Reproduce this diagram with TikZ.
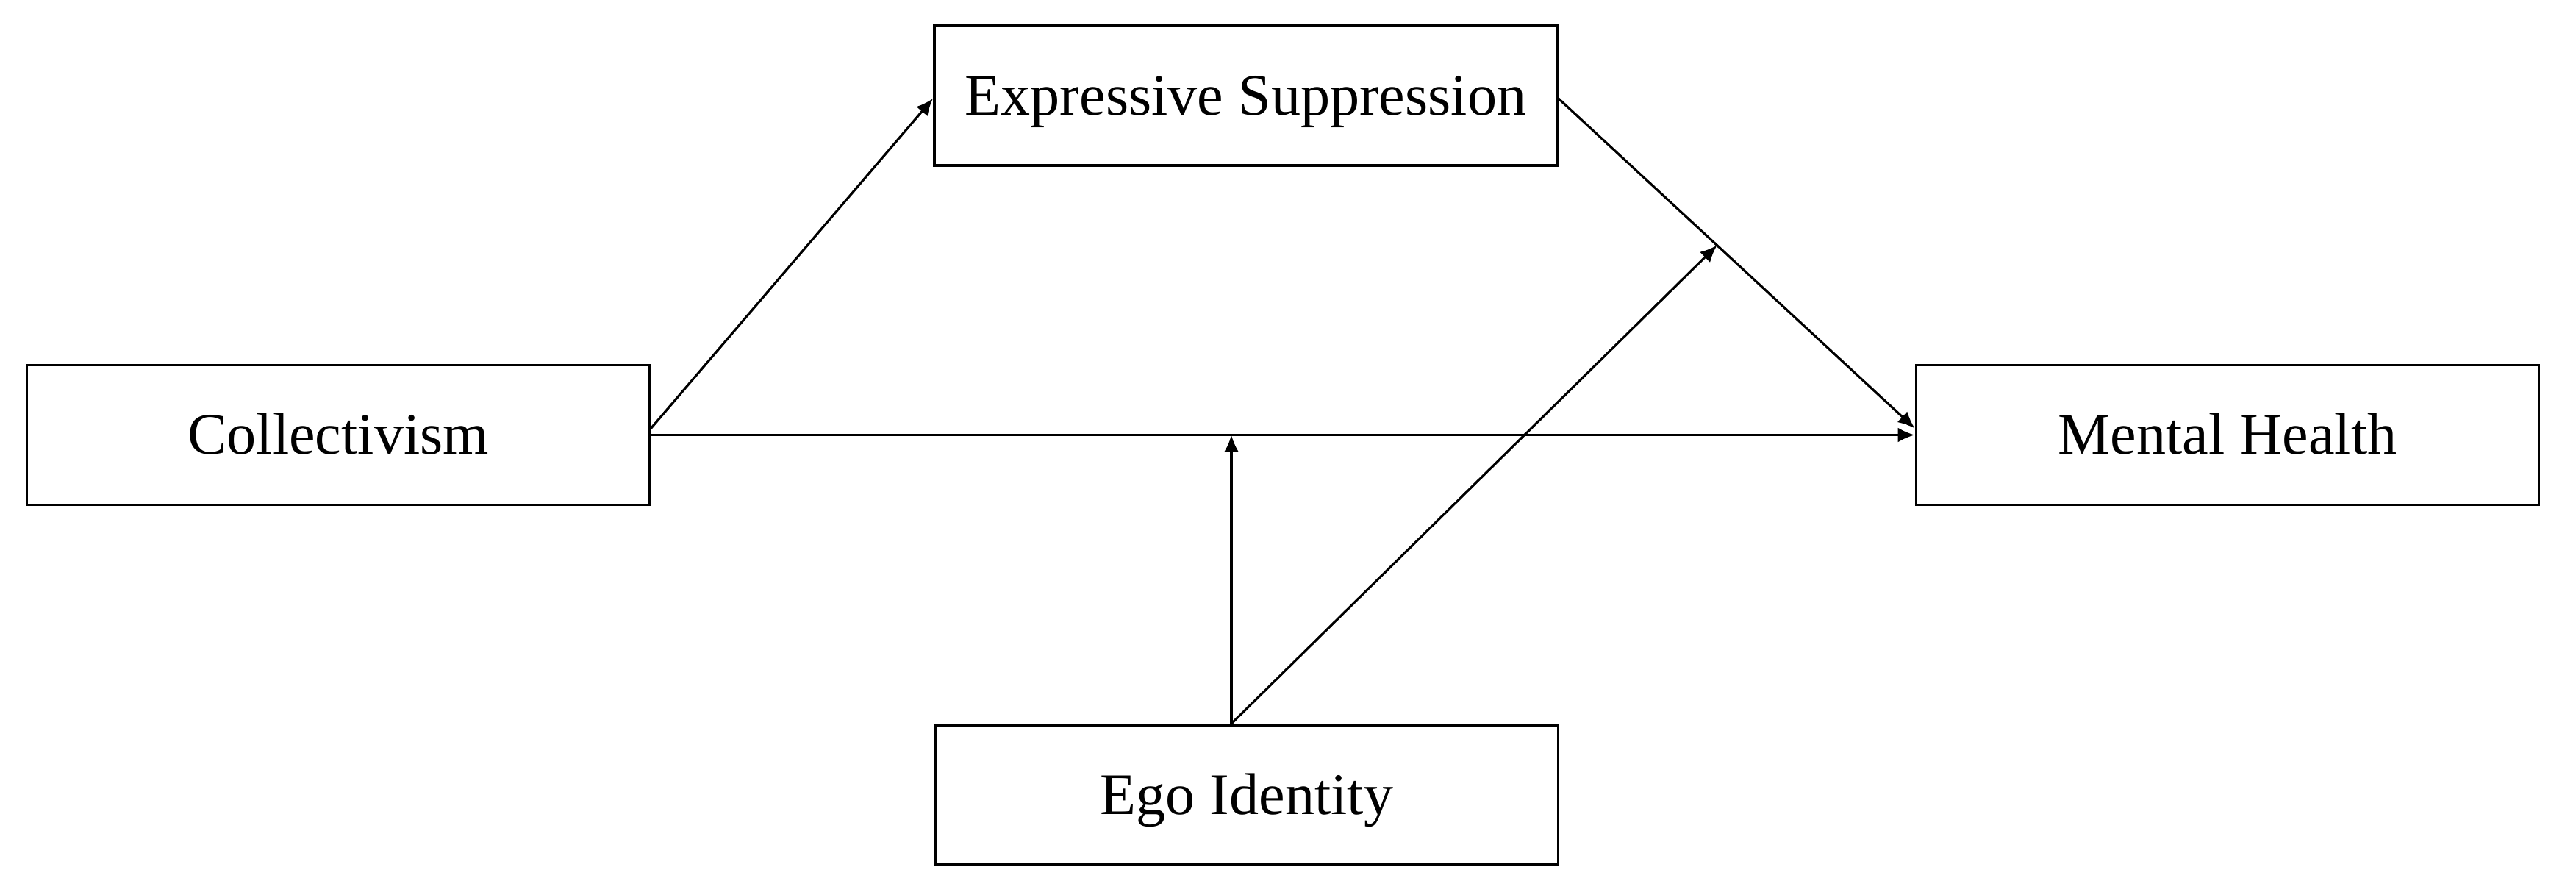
\documentclass[tikz,border=0pt]{standalone}
\usepackage{fontspec}
\setmainfont{Liberation Serif}
\usetikzlibrary{arrows.meta,calc}
\begin{document}
\begin{tikzpicture}[
  varbox/.style={draw=black, line width=1.1pt, minimum width=8.47cm, minimum height=1.9cm,
    inner sep=0pt, text height=0.53cm, text depth=0cm,
    font=\fontsize{22.8}{27}\selectfont},
  arr/.style={draw=black, line width=0.9pt, -{Latex[length=0.23cm,width=0.2cm]}}
]
\useasboundingbox (0,0) rectangle (35.04,12.12);
\node[varbox] (coll) at (4.60,6.205) {Collectivism};
\node[varbox] (es) at (16.945,10.82) {Expressive Suppression};
\node[varbox] (mh) at (30.30,6.205) {Mental Health};
\node[varbox] (ego) at (16.96,1.31) {Ego Identity};
\coordinate (collu) at ([yshift=0.09cm]coll.east);
\coordinate (mhu) at ([yshift=0.09cm]mh.west);
\coordinate (esw) at ([yshift=-0.04cm]es.west);
\coordinate (ese) at ([yshift=-0.04cm]es.east);
\coordinate (egon) at ([xshift=-0.21cm]ego.north);
\coordinate (hmid) at (egon |- coll.east);
\coordinate (dmid) at ($(ese)!0.445!(mhu)$);
\draw[arr] (collu) -- (esw);
\draw[arr] (coll.east) -- (mh.west);
\draw[arr] (ese) -- (mhu);
\draw[arr] (egon) -- (hmid);
\draw[arr] (egon) -- (dmid);
\end{tikzpicture}
\end{document}
